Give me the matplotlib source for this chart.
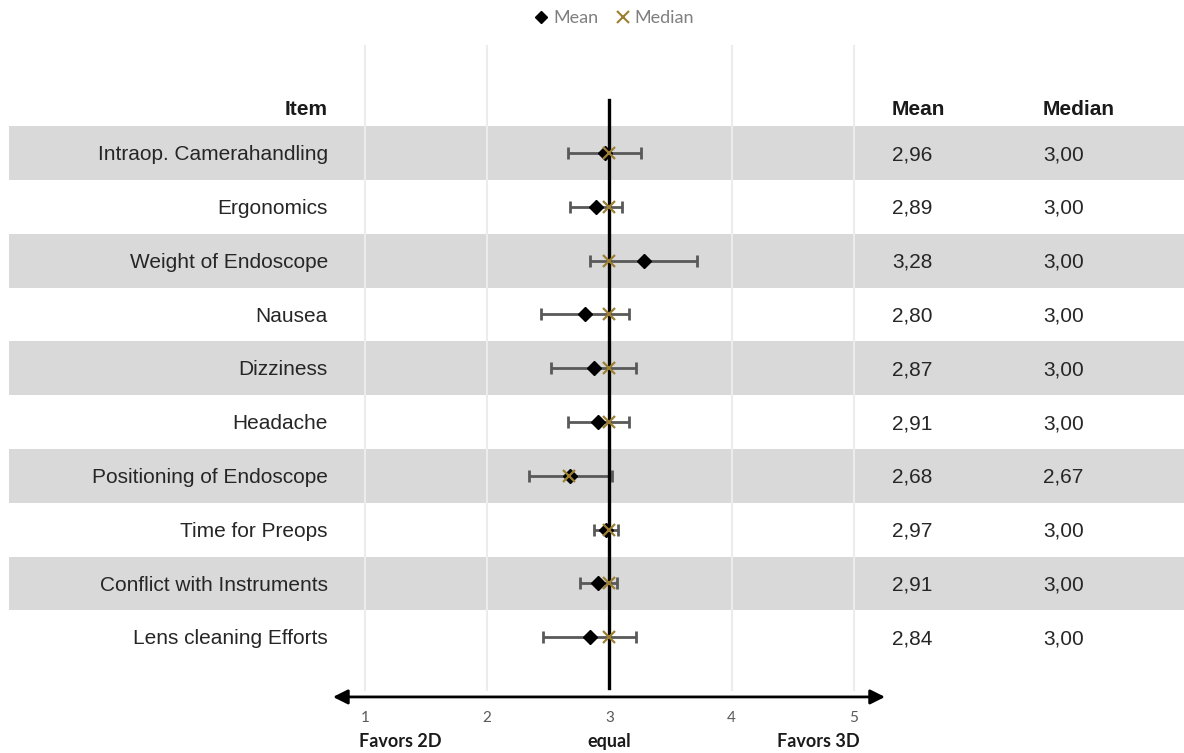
import matplotlib.pyplot as plt
from matplotlib.lines import Line2D

#----------------------------------------------------------------------------------------------------
# data
#----------------------------------------------------------------------------------------------------
items = ['Intraop. Camerahandling', 'Ergonomics', 'Weight of Endoscope', 'Nausea',
         'Dizziness', 'Headache', 'Positioning of Endoscope', 'Time for Preops',
         'Conflict with Instruments', 'Lens cleaning Efforts']
means = [2.96, 2.89, 3.28, 2.80, 2.87, 2.91, 2.68, 2.97, 2.91, 2.84]
medians = [3.00, 3.00, 3.00, 3.00, 3.00, 3.00, 2.67, 3.00, 3.00, 3.00]
errs = [0.30, 0.21, 0.44, 0.36, 0.35, 0.25, 0.34, 0.10, 0.15, 0.38]
ticks = [1, 2, 3, 4, 5]
scale_labels = ['Favors 2D', 'equal', 'Favors 3D']

#----------------------------------------------------------------------------------------------------
# figure : one axes over the whole canvas, x in score units, y in rows
#----------------------------------------------------------------------------------------------------
fig = plt.figure(figsize=(11.84, 7.53), dpi=100)
ax = fig.add_axes([0, 0, 1, 1])
ax.set_xlim(-1.987, 7.702)
ax.set_ylim(11.152, -2.844)
ax.axis('off')

main_font = 'Liberation Sans'
side_font = 'Lato'
fs = 15
rows = list(range(len(items)))

# shaded bands on every other row
for r in rows[::2]:
    ax.axhspan(r - 0.5, r + 0.5, xmin=9 / 1184, xmax=1, color='#d9d9d9', lw=0, zorder=0)

# light vertical grid
for t in ticks:
    if t != 3:
        ax.plot([t, t], [-1.99, 9.98], color='#ececec', lw=1.5, zorder=1)

# error bars
ax.errorbar(means, rows, xerr=errs, fmt='none', ecolor='#595959', elinewidth=2,
            capsize=4.5, capthick=2, zorder=2)

# thick line at "equal"
ax.plot([3, 3], [-0.985, 9.94], color='black', lw=2.4, zorder=3)

# means and medians
ax.plot(means, rows, 'D', color='black', markersize=7, zorder=4)
ax.plot(medians, rows, 'x', color='#9c7f30', markersize=9, markeredgewidth=1.6, zorder=5)

# table text
ax.text(0.697, -0.8, 'Item', ha='right', va='center', fontsize=fs, fontweight='bold',
        family=main_font, color='#1a1a1a')
ax.text(5.313, -0.8, 'Mean', ha='left', va='center', fontsize=fs, fontweight='bold',
        family=main_font, color='#1a1a1a')
ax.text(6.548, -0.8, 'Median', ha='left', va='center', fontsize=fs, fontweight='bold',
        family=main_font, color='#1a1a1a')
for r, name, m, md in zip(rows, items, means, medians):
    ax.text(0.697, r + 0.03, name, ha='right', va='center', fontsize=fs, family=main_font,
            color='#262626')
    ax.text(5.313, r + 0.03, f'{m:.2f}'.replace('.', ','), ha='left', va='center', fontsize=fs,
            family=main_font, color='#262626')
    ax.text(6.548, r + 0.03, f'{md:.2f}'.replace('.', ','), ha='left', va='center', fontsize=fs,
            family=main_font, color='#262626')

# bottom axis with arrows
ax.annotate('', xy=(0.738, 10.11), xytext=(5.255, 10.11),
            arrowprops=dict(arrowstyle='<|-|>', color='black', lw=2, mutation_scale=22,
                            shrinkA=0, shrinkB=0))
for t in ticks:
    ax.text(t, 10.5, str(t), ha='center', va='center', fontsize=11, family=side_font, color='#595959')
ax.text(0.95, 10.93, scale_labels[0], ha='left', va='center', fontsize=13, fontweight='bold',
        family=side_font, color='#1a1a1a')
ax.text(3, 10.93, scale_labels[1], ha='center', va='center', fontsize=13, fontweight='bold',
        family=side_font, color='#1a1a1a')
ax.text(5.05, 10.93, scale_labels[2], ha='right', va='center', fontsize=13, fontweight='bold',
        family=side_font, color='#1a1a1a')

# legend on top
handles = [Line2D([], [], marker='D', color='black', ls='none', markersize=6),
           Line2D([], [], marker='x', color='#9c7f30', ls='none', markersize=9, markeredgewidth=1.5)]
leg = ax.legend(handles, ['Mean', 'Median'], loc='center', bbox_to_anchor=(0.519, 0.976),
                ncol=2, frameon=False, handlelength=0.7, handletextpad=0.3, columnspacing=1.0,
                prop={'family': side_font, 'size': 13})
for txt in leg.get_texts():
    txt.set_color('#7f7f7f')

plt.savefig('out.png', dpi=100)
